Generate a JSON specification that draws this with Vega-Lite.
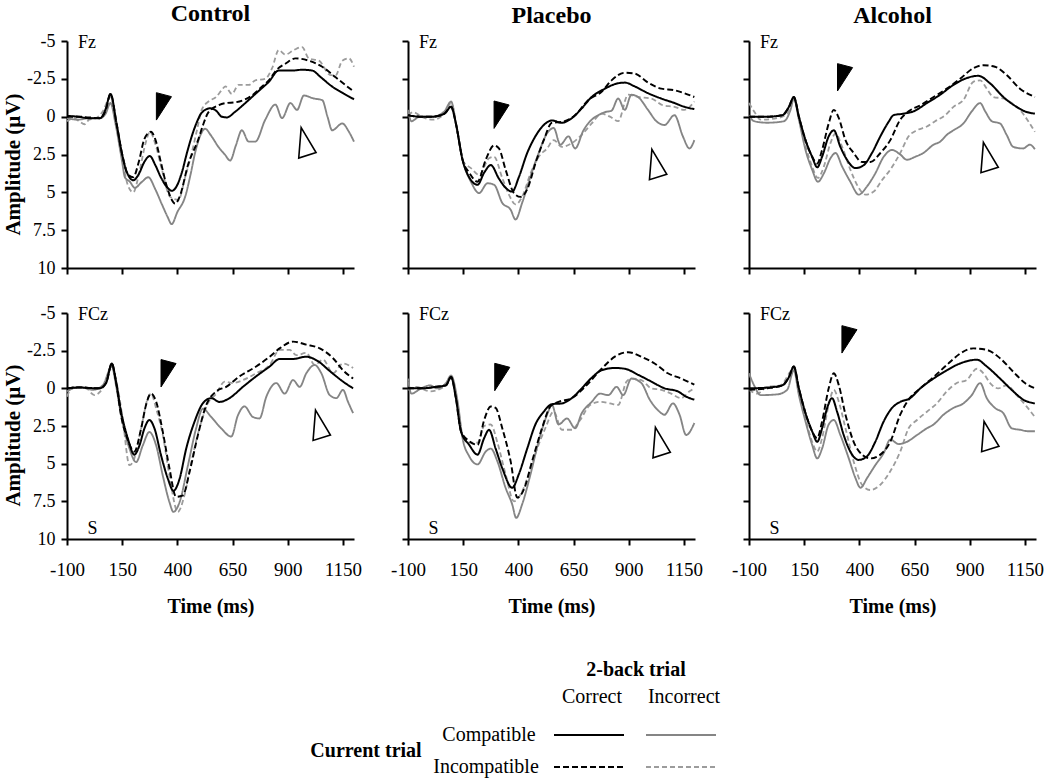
{
"$schema":"https://vega.github.io/schema/vega-lite/v6.json",
"padding":{"left":2,"top":2,"right":5,"bottom":0},
"config":{"font":"Liberation Serif","view":{"stroke":null},
 "axis":{"domainColor":"#000","domainWidth":2,"tickColor":"#000","tickWidth":2,"tickSize":6,"grid":false,"labelOverlap":false,"labelFont":"Liberation Serif","labelFontSize":18,"labelColor":"#000","titleFont":"Liberation Serif","titleFontWeight":"bold","titleColor":"#000"},
 "axisX":{"labelPadding":15,"labelFontSize":19,"labelFlush":false,"titleFontSize":20,"titlePadding":17},
 "axisY":{"labelPadding":6,"titleFontSize":21,"titlePadding":3},
 "title":{"font":"Liberation Serif","fontSize":24,"fontWeight":"bold","color":"#000","anchor":"middle","frame":"group","offset":6}},
"datasets":{
"CF":[
{"s":"ii","t":-100,"v":0.3},{"s":"ii","t":-70,"v":0.1},{"s":"ii","t":-45,"v":0.3},{"s":"ii","t":-20,"v":0.5},{"s":"ii","t":0,"v":0.2},{"s":"ii","t":30,"v":0.1},{"s":"ii","t":60,"v":-0.3},{"s":"ii","t":97,"v":-1.3},{"s":"ii","t":120,"v":0.3},{"s":"ii","t":150,"v":2.8},{"s":"ii","t":175,"v":4.5},{"s":"ii","t":200,"v":5.0},{"s":"ii","t":230,"v":3.5},{"s":"ii","t":255,"v":1.8},{"s":"ii","t":276,"v":1.0},{"s":"ii","t":300,"v":1.8},{"s":"ii","t":330,"v":3.5},{"s":"ii","t":367,"v":5.3},{"s":"ii","t":405,"v":5.5},{"s":"ii","t":435,"v":4.0},{"s":"ii","t":465,"v":2.4},{"s":"ii","t":490,"v":0.8},{"s":"ii","t":510,"v":-0.45},{"s":"ii","t":541,"v":-1.0},{"s":"ii","t":575,"v":-1.3},{"s":"ii","t":601,"v":-1.75},{"s":"ii","t":617,"v":-2.0},{"s":"ii","t":647,"v":-1.5},{"s":"ii","t":677,"v":-2.1},{"s":"ii","t":723,"v":-2.1},{"s":"ii","t":753,"v":-2.4},{"s":"ii","t":798,"v":-2.5},{"s":"ii","t":829,"v":-3.2},{"s":"ii","t":859,"v":-4.4},{"s":"ii","t":889,"v":-4.1},{"s":"ii","t":927,"v":-4.4},{"s":"ii","t":965,"v":-4.6},{"s":"ii","t":995,"v":-3.85},{"s":"ii","t":1041,"v":-3.7},{"s":"ii","t":1094,"v":-2.75},{"s":"ii","t":1117,"v":-2.75},{"s":"ii","t":1147,"v":-3.7},{"s":"ii","t":1177,"v":-3.85},{"s":"ii","t":1200,"v":-3.3},
{"s":"ci","t":-100,"v":0.1},{"s":"ci","t":-50,"v":0.2},{"s":"ci","t":0,"v":0.1},{"s":"ci","t":50,"v":0.1},{"s":"ci","t":75,"v":-0.2},{"s":"ci","t":97,"v":-0.9},{"s":"ci","t":120,"v":0.5},{"s":"ci","t":150,"v":3.0},{"s":"ci","t":162,"v":4.0},{"s":"ci","t":185,"v":4.3},{"s":"ci","t":207,"v":4.7},{"s":"ci","t":240,"v":4.3},{"s":"ci","t":268,"v":4.0},{"s":"ci","t":300,"v":4.8},{"s":"ci","t":330,"v":5.8},{"s":"ci","t":355,"v":6.6},{"s":"ci","t":374,"v":7.1},{"s":"ci","t":400,"v":6.3},{"s":"ci","t":435,"v":5.3},{"s":"ci","t":460,"v":3.8},{"s":"ci","t":480,"v":2.4},{"s":"ci","t":505,"v":1.2},{"s":"ci","t":526,"v":0.8},{"s":"ci","t":550,"v":1.2},{"s":"ci","t":586,"v":2.0},{"s":"ci","t":615,"v":2.5},{"s":"ci","t":639,"v":2.9},{"s":"ci","t":665,"v":1.9},{"s":"ci","t":692,"v":0.9},{"s":"ci","t":723,"v":1.65},{"s":"ci","t":753,"v":1.65},{"s":"ci","t":798,"v":0.2},{"s":"ci","t":844,"v":-0.8},{"s":"ci","t":874,"v":0.1},{"s":"ci","t":912,"v":-0.9},{"s":"ci","t":942,"v":-0.45},{"s":"ci","t":973,"v":-1.4},{"s":"ci","t":1018,"v":-1.2},{"s":"ci","t":1056,"v":-1.1},{"s":"ci","t":1080,"v":0.0},{"s":"ci","t":1101,"v":0.9},{"s":"ci","t":1147,"v":0.45},{"s":"ci","t":1177,"v":1.0},{"s":"ci","t":1200,"v":1.65},
{"s":"ic","t":-100,"v":0},{"s":"ic","t":-50,"v":0},{"s":"ic","t":0,"v":0.05},{"s":"ic","t":50,"v":0.1},{"s":"ic","t":75,"v":-0.4},{"s":"ic","t":97,"v":-1.5},{"s":"ic","t":125,"v":0.5},{"s":"ic","t":150,"v":2.5},{"s":"ic","t":175,"v":3.8},{"s":"ic","t":200,"v":4.0},{"s":"ic","t":225,"v":3.0},{"s":"ic","t":250,"v":1.5},{"s":"ic","t":280,"v":1.0},{"s":"ic","t":300,"v":1.5},{"s":"ic","t":325,"v":3.0},{"s":"ic","t":350,"v":4.5},{"s":"ic","t":375,"v":5.5},{"s":"ic","t":390,"v":5.75},{"s":"ic","t":410,"v":5.3},{"s":"ic","t":450,"v":3.1},{"s":"ic","t":495,"v":1.5},{"s":"ic","t":515,"v":0.6},{"s":"ic","t":541,"v":-0.3},{"s":"ic","t":586,"v":-0.75},{"s":"ic","t":620,"v":-0.9},{"s":"ic","t":662,"v":-0.95},{"s":"ic","t":700,"v":-1.1},{"s":"ic","t":738,"v":-1.4},{"s":"ic","t":776,"v":-1.9},{"s":"ic","t":814,"v":-2.4},{"s":"ic","t":850,"v":-3.1},{"s":"ic","t":889,"v":-3.5},{"s":"ic","t":935,"v":-3.85},{"s":"ic","t":995,"v":-3.7},{"s":"ic","t":1056,"v":-3.3},{"s":"ic","t":1117,"v":-2.6},{"s":"ic","t":1160,"v":-2.1},{"s":"ic","t":1200,"v":-1.65},
{"s":"cc","t":-100,"v":-0.05},{"s":"cc","t":-50,"v":0},{"s":"cc","t":0,"v":0.1},{"s":"cc","t":50,"v":0.1},{"s":"cc","t":75,"v":-0.5},{"s":"cc","t":97,"v":-1.5},{"s":"cc","t":125,"v":0.5},{"s":"cc","t":150,"v":2.5},{"s":"cc","t":175,"v":3.8},{"s":"cc","t":200,"v":4.2},{"s":"cc","t":225,"v":3.8},{"s":"cc","t":250,"v":3.0},{"s":"cc","t":275,"v":2.6},{"s":"cc","t":300,"v":3.2},{"s":"cc","t":325,"v":4.0},{"s":"cc","t":350,"v":4.6},{"s":"cc","t":375,"v":4.9},{"s":"cc","t":400,"v":4.5},{"s":"cc","t":420,"v":3.7},{"s":"cc","t":445,"v":2.3},{"s":"cc","t":465,"v":1.3},{"s":"cc","t":490,"v":0.3},{"s":"cc","t":510,"v":-0.26},{"s":"cc","t":548,"v":-0.55},{"s":"cc","t":575,"v":-0.4},{"s":"cc","t":601,"v":0},{"s":"cc","t":624,"v":0.05},{"s":"cc","t":662,"v":-0.33},{"s":"cc","t":700,"v":-0.8},{"s":"cc","t":738,"v":-1.3},{"s":"cc","t":776,"v":-1.8},{"s":"cc","t":814,"v":-2.3},{"s":"cc","t":859,"v":-3.05},{"s":"cc","t":920,"v":-3.05},{"s":"cc","t":965,"v":-3.1},{"s":"cc","t":1010,"v":-3.05},{"s":"cc","t":1050,"v":-2.6},{"s":"cc","t":1100,"v":-2.0},{"s":"cc","t":1150,"v":-1.55},{"s":"cc","t":1200,"v":-1.15}
],
"PF":[
{"s":"ii","t":-100,"v":-0.1},{"s":"ii","t":-77,"v":-0.3},{"s":"ii","t":-32,"v":0.05},{"s":"ii","t":12,"v":0.2},{"s":"ii","t":65,"v":-0.2},{"s":"ii","t":95,"v":-0.9},{"s":"ii","t":130,"v":1.55},{"s":"ii","t":152,"v":3.0},{"s":"ii","t":185,"v":3.4},{"s":"ii","t":222,"v":3.85},{"s":"ii","t":267,"v":2.75},{"s":"ii","t":290,"v":2.65},{"s":"ii","t":327,"v":4.05},{"s":"ii","t":357,"v":5.15},{"s":"ii","t":387,"v":5.8},{"s":"ii","t":417,"v":5.3},{"s":"ii","t":455,"v":3.75},{"s":"ii","t":492,"v":2.65},{"s":"ii","t":530,"v":2.1},{"s":"ii","t":560,"v":1.55},{"s":"ii","t":597,"v":2.0},{"s":"ii","t":642,"v":1.75},{"s":"ii","t":687,"v":1.2},{"s":"ii","t":732,"v":0.45},{"s":"ii","t":777,"v":-0.2},{"s":"ii","t":815,"v":0.0},{"s":"ii","t":852,"v":0.3},{"s":"ii","t":897,"v":-1.45},{"s":"ii","t":942,"v":-1.3},{"s":"ii","t":1002,"v":-1.2},{"s":"ii","t":1055,"v":-0.75},{"s":"ii","t":1107,"v":-0.65},{"s":"ii","t":1152,"v":-0.45},{"s":"ii","t":1197,"v":-1.0},
{"s":"ci","t":-100,"v":-0.45},{"s":"ci","t":-85,"v":0.3},{"s":"ci","t":-47,"v":0},{"s":"ci","t":12,"v":0},{"s":"ci","t":65,"v":-0.35},{"s":"ci","t":95,"v":-1.0},{"s":"ci","t":122,"v":0.9},{"s":"ci","t":152,"v":3.1},{"s":"ci","t":185,"v":4.3},{"s":"ci","t":222,"v":5.05},{"s":"ci","t":260,"v":4.4},{"s":"ci","t":290,"v":4.5},{"s":"ci","t":327,"v":5.7},{"s":"ci","t":365,"v":6.15},{"s":"ci","t":387,"v":6.8},{"s":"ci","t":417,"v":5.7},{"s":"ci","t":455,"v":3.95},{"s":"ci","t":492,"v":2.4},{"s":"ci","t":530,"v":1.1},{"s":"ci","t":560,"v":0.75},{"s":"ci","t":590,"v":1.85},{"s":"ci","t":627,"v":1.3},{"s":"ci","t":657,"v":2.1},{"s":"ci","t":695,"v":0.9},{"s":"ci","t":732,"v":0.2},{"s":"ci","t":762,"v":-0.1},{"s":"ci","t":792,"v":-0.3},{"s":"ci","t":822,"v":-0.4},{"s":"ci","t":852,"v":-1.2},{"s":"ci","t":882,"v":-0.45},{"s":"ci","t":912,"v":-1.45},{"s":"ci","t":942,"v":-1.3},{"s":"ci","t":987,"v":-0.45},{"s":"ci","t":1025,"v":0.3},{"s":"ci","t":1062,"v":0.55},{"s":"ci","t":1107,"v":-0.1},{"s":"ci","t":1145,"v":1.3},{"s":"ci","t":1175,"v":2.1},{"s":"ci","t":1197,"v":1.55},
{"s":"ic","t":-100,"v":-0.1},{"s":"ic","t":-47,"v":0},{"s":"ic","t":12,"v":0},{"s":"ic","t":65,"v":-0.2},{"s":"ic","t":95,"v":-0.65},{"s":"ic","t":117,"v":0.45},{"s":"ic","t":147,"v":2.85},{"s":"ic","t":177,"v":3.7},{"s":"ic","t":215,"v":4.3},{"s":"ic","t":252,"v":2.85},{"s":"ic","t":290,"v":1.9},{"s":"ic","t":312,"v":2.1},{"s":"ic","t":342,"v":3.5},{"s":"ic","t":380,"v":5.05},{"s":"ic","t":410,"v":5.3},{"s":"ic","t":440,"v":4.8},{"s":"ic","t":477,"v":3.1},{"s":"ic","t":515,"v":1.55},{"s":"ic","t":552,"v":0.4},{"s":"ic","t":597,"v":0.35},{"s":"ic","t":657,"v":-0.1},{"s":"ic","t":717,"v":-1.1},{"s":"ic","t":777,"v":-1.65},{"s":"ic","t":822,"v":-2.4},{"s":"ic","t":882,"v":-2.9},{"s":"ic","t":927,"v":-2.85},{"s":"ic","t":987,"v":-2.25},{"s":"ic","t":1047,"v":-1.85},{"s":"ic","t":1107,"v":-1.75},{"s":"ic","t":1152,"v":-1.55},{"s":"ic","t":1197,"v":-1.3},
{"s":"cc","t":-100,"v":-0.1},{"s":"cc","t":-47,"v":0},{"s":"cc","t":12,"v":0},{"s":"cc","t":65,"v":-0.2},{"s":"cc","t":95,"v":-0.65},{"s":"cc","t":117,"v":0.45},{"s":"cc","t":147,"v":2.85},{"s":"cc","t":177,"v":4.0},{"s":"cc","t":215,"v":4.5},{"s":"cc","t":245,"v":3.7},{"s":"cc","t":275,"v":3.2},{"s":"cc","t":312,"v":4.1},{"s":"cc","t":342,"v":4.7},{"s":"cc","t":372,"v":4.95},{"s":"cc","t":402,"v":4.0},{"s":"cc","t":440,"v":2.4},{"s":"cc","t":477,"v":1.3},{"s":"cc","t":515,"v":0.55},{"s":"cc","t":552,"v":0.25},{"s":"cc","t":597,"v":0.4},{"s":"cc","t":642,"v":0.1},{"s":"cc","t":687,"v":-0.55},{"s":"cc","t":732,"v":-1.3},{"s":"cc","t":792,"v":-1.85},{"s":"cc","t":837,"v":-2.15},{"s":"cc","t":882,"v":-2.25},{"s":"cc","t":927,"v":-2.0},{"s":"cc","t":987,"v":-1.55},{"s":"cc","t":1047,"v":-1.2},{"s":"cc","t":1107,"v":-0.9},{"s":"cc","t":1152,"v":-0.65},{"s":"cc","t":1197,"v":-0.5}
],
"AF":[
{"s":"ii","t":-100,"v":-0.9},{"s":"ii","t":-77,"v":-0.35},{"s":"ii","t":-47,"v":0.2},{"s":"ii","t":28,"v":0.1},{"s":"ii","t":73,"v":-0.2},{"s":"ii","t":103,"v":-1.15},{"s":"ii","t":126,"v":0},{"s":"ii","t":156,"v":1.9},{"s":"ii","t":186,"v":3.3},{"s":"ii","t":212,"v":4.05},{"s":"ii","t":239,"v":3.3},{"s":"ii","t":269,"v":1.75},{"s":"ii","t":292,"v":1.1},{"s":"ii","t":322,"v":2.0},{"s":"ii","t":359,"v":3.5},{"s":"ii","t":397,"v":4.7},{"s":"ii","t":427,"v":5.15},{"s":"ii","t":465,"v":4.95},{"s":"ii","t":502,"v":4.2},{"s":"ii","t":540,"v":3.5},{"s":"ii","t":585,"v":2.4},{"s":"ii","t":623,"v":1.3},{"s":"ii","t":660,"v":0.9},{"s":"ii","t":706,"v":0.65},{"s":"ii","t":743,"v":0.3},{"s":"ii","t":789,"v":-0.1},{"s":"ii","t":826,"v":-0.65},{"s":"ii","t":871,"v":-1.1},{"s":"ii","t":916,"v":-2.3},{"s":"ii","t":947,"v":-2.4},{"s":"ii","t":977,"v":-1.85},{"s":"ii","t":1007,"v":-1.3},{"s":"ii","t":1052,"v":-1.2},{"s":"ii","t":1090,"v":-0.9},{"s":"ii","t":1127,"v":-0.45},{"s":"ii","t":1165,"v":0.3},{"s":"ii","t":1195,"v":1.0},
{"s":"ci","t":-100,"v":-0.1},{"s":"ci","t":-77,"v":0.3},{"s":"ci","t":-17,"v":0.4},{"s":"ci","t":58,"v":0.3},{"s":"ci","t":88,"v":-0.45},{"s":"ci","t":103,"v":-1.2},{"s":"ci","t":126,"v":0.2},{"s":"ci","t":156,"v":2.2},{"s":"ci","t":186,"v":3.5},{"s":"ci","t":212,"v":4.3},{"s":"ci","t":239,"v":3.75},{"s":"ci","t":269,"v":2.75},{"s":"ci","t":292,"v":2.4},{"s":"ci","t":322,"v":3.3},{"s":"ci","t":359,"v":4.3},{"s":"ci","t":397,"v":5.15},{"s":"ci","t":435,"v":4.6},{"s":"ci","t":472,"v":3.75},{"s":"ci","t":510,"v":2.65},{"s":"ci","t":548,"v":2.2},{"s":"ci","t":585,"v":2.5},{"s":"ci","t":615,"v":2.85},{"s":"ci","t":653,"v":2.65},{"s":"ci","t":690,"v":2.4},{"s":"ci","t":736,"v":1.85},{"s":"ci","t":766,"v":1.65},{"s":"ci","t":796,"v":1.2},{"s":"ci","t":826,"v":0.9},{"s":"ci","t":871,"v":0.45},{"s":"ci","t":909,"v":-0.35},{"s":"ci","t":947,"v":-0.9},{"s":"ci","t":970,"v":-0.35},{"s":"ci","t":1000,"v":0.3},{"s":"ci","t":1037,"v":0.45},{"s":"ci","t":1067,"v":1.2},{"s":"ci","t":1097,"v":2.0},{"s":"ci","t":1142,"v":2.1},{"s":"ci","t":1172,"v":1.85},{"s":"ci","t":1195,"v":2.15},
{"s":"ic","t":-100,"v":0},{"s":"ic","t":-17,"v":0},{"s":"ic","t":51,"v":-0.1},{"s":"ic","t":81,"v":-0.65},{"s":"ic","t":103,"v":-1.3},{"s":"ic","t":126,"v":0},{"s":"ic","t":156,"v":1.55},{"s":"ic","t":186,"v":2.65},{"s":"ic","t":209,"v":3.1},{"s":"ic","t":231,"v":2.2},{"s":"ic","t":261,"v":0.45},{"s":"ic","t":284,"v":-0.45},{"s":"ic","t":307,"v":0.1},{"s":"ic","t":337,"v":1.55},{"s":"ic","t":374,"v":2.4},{"s":"ic","t":412,"v":3.0},{"s":"ic","t":450,"v":3.0},{"s":"ic","t":495,"v":2.4},{"s":"ic","t":540,"v":1.55},{"s":"ic","t":585,"v":0.2},{"s":"ic","t":623,"v":-0.35},{"s":"ic","t":676,"v":-0.75},{"s":"ic","t":736,"v":-1.3},{"s":"ic","t":796,"v":-1.85},{"s":"ic","t":856,"v":-2.5},{"s":"ic","t":916,"v":-3.2},{"s":"ic","t":962,"v":-3.4},{"s":"ic","t":1014,"v":-3.3},{"s":"ic","t":1067,"v":-2.75},{"s":"ic","t":1127,"v":-1.85},{"s":"ic","t":1195,"v":-1.3},
{"s":"cc","t":-100,"v":0},{"s":"cc","t":-17,"v":0},{"s":"cc","t":51,"v":-0.1},{"s":"cc","t":81,"v":-0.65},{"s":"cc","t":103,"v":-1.3},{"s":"cc","t":126,"v":0},{"s":"cc","t":156,"v":1.55},{"s":"cc","t":186,"v":2.65},{"s":"cc","t":209,"v":3.35},{"s":"cc","t":231,"v":2.65},{"s":"cc","t":261,"v":1.3},{"s":"cc","t":284,"v":0.9},{"s":"cc","t":314,"v":2.0},{"s":"cc","t":344,"v":2.85},{"s":"cc","t":382,"v":3.4},{"s":"cc","t":420,"v":3.2},{"s":"cc","t":457,"v":2.4},{"s":"cc","t":495,"v":1.3},{"s":"cc","t":532,"v":0.35},{"s":"cc","t":555,"v":-0.1},{"s":"cc","t":600,"v":-0.2},{"s":"cc","t":645,"v":-0.35},{"s":"cc","t":706,"v":-0.9},{"s":"cc","t":766,"v":-1.45},{"s":"cc","t":826,"v":-2.1},{"s":"cc","t":886,"v":-2.55},{"s":"cc","t":939,"v":-2.7},{"s":"cc","t":992,"v":-2.2},{"s":"cc","t":1052,"v":-1.3},{"s":"cc","t":1112,"v":-0.65},{"s":"cc","t":1150,"v":-0.35},{"s":"cc","t":1195,"v":-0.2}
],
"CC":[
{"s":"ii","t":-100,"v":0.55},{"s":"ii","t":-74,"v":-0.1},{"s":"ii","t":-21,"v":-0.1},{"s":"ii","t":24,"v":0.45},{"s":"ii","t":62,"v":0},{"s":"ii","t":103,"v":-1.35},{"s":"ii","t":130,"v":0},{"s":"ii","t":152,"v":2.0},{"s":"ii","t":183,"v":5.1},{"s":"ii","t":205,"v":4.65},{"s":"ii","t":236,"v":2.65},{"s":"ii","t":266,"v":0.65},{"s":"ii","t":281,"v":0.35},{"s":"ii","t":304,"v":1.35},{"s":"ii","t":334,"v":3.1},{"s":"ii","t":364,"v":5.8},{"s":"ii","t":402,"v":8.2},{"s":"ii","t":432,"v":7.1},{"s":"ii","t":463,"v":4.9},{"s":"ii","t":500,"v":2.65},{"s":"ii","t":538,"v":1.0},{"s":"ii","t":576,"v":0.35},{"s":"ii","t":614,"v":-0.45},{"s":"ii","t":651,"v":-0.35},{"s":"ii","t":697,"v":-0.55},{"s":"ii","t":757,"v":-1.0},{"s":"ii","t":818,"v":-1.55},{"s":"ii","t":863,"v":-2.55},{"s":"ii","t":909,"v":-2.55},{"s":"ii","t":939,"v":-2.2},{"s":"ii","t":984,"v":-2.35},{"s":"ii","t":1022,"v":-1.55},{"s":"ii","t":1060,"v":-1.9},{"s":"ii","t":1105,"v":-1.0},{"s":"ii","t":1150,"v":-1.65},{"s":"ii","t":1196,"v":-1.35},
{"s":"ci","t":-100,"v":0.2},{"s":"ci","t":-44,"v":-0.1},{"s":"ci","t":17,"v":0.1},{"s":"ci","t":62,"v":-0.2},{"s":"ci","t":103,"v":-1.45},{"s":"ci","t":122,"v":-0.2},{"s":"ci","t":145,"v":1.8},{"s":"ci","t":183,"v":4.0},{"s":"ci","t":213,"v":4.9},{"s":"ci","t":243,"v":3.8},{"s":"ci","t":273,"v":2.9},{"s":"ci","t":304,"v":3.8},{"s":"ci","t":334,"v":5.8},{"s":"ci","t":364,"v":7.55},{"s":"ci","t":382,"v":8.2},{"s":"ci","t":410,"v":7.55},{"s":"ci","t":448,"v":5.1},{"s":"ci","t":485,"v":2.65},{"s":"ci","t":515,"v":1.35},{"s":"ci","t":553,"v":1.9},{"s":"ci","t":598,"v":2.65},{"s":"ci","t":644,"v":3.2},{"s":"ci","t":674,"v":1.8},{"s":"ci","t":704,"v":1.2},{"s":"ci","t":742,"v":1.9},{"s":"ci","t":772,"v":2.0},{"s":"ci","t":803,"v":0.55},{"s":"ci","t":848,"v":-0.35},{"s":"ci","t":886,"v":0.35},{"s":"ci","t":924,"v":-0.55},{"s":"ci","t":954,"v":-0.1},{"s":"ci","t":984,"v":-1.0},{"s":"ci","t":1022,"v":-1.55},{"s":"ci","t":1052,"v":-1.0},{"s":"ci","t":1090,"v":0.45},{"s":"ci","t":1120,"v":0.65},{"s":"ci","t":1150,"v":0.1},{"s":"ci","t":1173,"v":0.9},{"s":"ci","t":1196,"v":1.65},
{"s":"ic","t":-100,"v":0},{"s":"ic","t":-44,"v":-0.05},{"s":"ic","t":47,"v":0},{"s":"ic","t":77,"v":-0.35},{"s":"ic","t":103,"v":-1.65},{"s":"ic","t":122,"v":-0.45},{"s":"ic","t":145,"v":1.8},{"s":"ic","t":175,"v":3.4},{"s":"ic","t":205,"v":4.2},{"s":"ic","t":236,"v":2.65},{"s":"ic","t":258,"v":1.1},{"s":"ic","t":281,"v":0.35},{"s":"ic","t":304,"v":0.9},{"s":"ic","t":334,"v":2.9},{"s":"ic","t":364,"v":5.3},{"s":"ic","t":394,"v":7.2},{"s":"ic","t":425,"v":7.1},{"s":"ic","t":455,"v":5.55},{"s":"ic","t":493,"v":3.1},{"s":"ic","t":531,"v":1.1},{"s":"ic","t":576,"v":0.2},{"s":"ic","t":621,"v":-0.1},{"s":"ic","t":682,"v":-0.8},{"s":"ic","t":757,"v":-1.45},{"s":"ic","t":818,"v":-2.1},{"s":"ic","t":863,"v":-2.65},{"s":"ic","t":924,"v":-3.1},{"s":"ic","t":984,"v":-2.9},{"s":"ic","t":1045,"v":-2.65},{"s":"ic","t":1105,"v":-2.0},{"s":"ic","t":1150,"v":-1.2},{"s":"ic","t":1196,"v":-0.65},
{"s":"cc","t":-100,"v":0},{"s":"cc","t":-44,"v":-0.05},{"s":"cc","t":47,"v":0},{"s":"cc","t":77,"v":-0.35},{"s":"cc","t":103,"v":-1.65},{"s":"cc","t":122,"v":-0.45},{"s":"cc","t":145,"v":1.55},{"s":"cc","t":175,"v":3.3},{"s":"cc","t":205,"v":4.4},{"s":"cc","t":228,"v":3.8},{"s":"cc","t":251,"v":2.65},{"s":"cc","t":273,"v":2.1},{"s":"cc","t":296,"v":2.65},{"s":"cc","t":326,"v":4.45},{"s":"cc","t":357,"v":6.0},{"s":"cc","t":382,"v":6.8},{"s":"cc","t":410,"v":6.0},{"s":"cc","t":440,"v":4.0},{"s":"cc","t":478,"v":2.2},{"s":"cc","t":515,"v":1.0},{"s":"cc","t":553,"v":0.65},{"s":"cc","t":591,"v":0.9},{"s":"cc","t":636,"v":0.65},{"s":"cc","t":697,"v":-0.1},{"s":"cc","t":757,"v":-0.8},{"s":"cc","t":818,"v":-1.45},{"s":"cc","t":863,"v":-1.95},{"s":"cc","t":924,"v":-1.95},{"s":"cc","t":984,"v":-2.1},{"s":"cc","t":1037,"v":-1.8},{"s":"cc","t":1090,"v":-1.15},{"s":"cc","t":1150,"v":-0.45},{"s":"cc","t":1196,"v":0}
],
"PC":[
{"s":"ii","t":-100,"v":0.1},{"s":"ii","t":-62,"v":-0.1},{"s":"ii","t":0,"v":0.2},{"s":"ii","t":72,"v":-0.2},{"s":"ii","t":95,"v":-0.75},{"s":"ii","t":125,"v":1.1},{"s":"ii","t":147,"v":3.2},{"s":"ii","t":177,"v":3.6},{"s":"ii","t":215,"v":3.6},{"s":"ii","t":245,"v":2.5},{"s":"ii","t":275,"v":2.4},{"s":"ii","t":305,"v":3.6},{"s":"ii","t":342,"v":5.7},{"s":"ii","t":380,"v":7.5},{"s":"ii","t":410,"v":7.05},{"s":"ii","t":447,"v":5.7},{"s":"ii","t":485,"v":4.0},{"s":"ii","t":522,"v":2.65},{"s":"ii","t":560,"v":1.55},{"s":"ii","t":597,"v":2.75},{"s":"ii","t":642,"v":2.75},{"s":"ii","t":680,"v":2.1},{"s":"ii","t":725,"v":1.1},{"s":"ii","t":770,"v":0.9},{"s":"ii","t":815,"v":1.0},{"s":"ii","t":852,"v":1.1},{"s":"ii","t":890,"v":-0.45},{"s":"ii","t":912,"v":-0.65},{"s":"ii","t":957,"v":-0.55},{"s":"ii","t":1002,"v":0},{"s":"ii","t":1047,"v":0.1},{"s":"ii","t":1092,"v":0.35},{"s":"ii","t":1137,"v":0.65},{"s":"ii","t":1175,"v":0.2},{"s":"ii","t":1197,"v":0},
{"s":"ci","t":-100,"v":-0.65},{"s":"ci","t":-85,"v":0.35},{"s":"ci","t":-40,"v":0},{"s":"ci","t":0,"v":-0.2},{"s":"ci","t":30,"v":0},{"s":"ci","t":72,"v":-0.35},{"s":"ci","t":95,"v":-0.85},{"s":"ci","t":125,"v":0.9},{"s":"ci","t":147,"v":3.3},{"s":"ci","t":177,"v":4.5},{"s":"ci","t":215,"v":5.05},{"s":"ci","t":252,"v":4.2},{"s":"ci","t":275,"v":4.0},{"s":"ci","t":305,"v":4.85},{"s":"ci","t":342,"v":6.6},{"s":"ci","t":372,"v":7.7},{"s":"ci","t":390,"v":8.6},{"s":"ci","t":417,"v":7.7},{"s":"ci","t":455,"v":5.7},{"s":"ci","t":492,"v":3.5},{"s":"ci","t":530,"v":1.75},{"s":"ci","t":552,"v":1.1},{"s":"ci","t":582,"v":2.4},{"s":"ci","t":620,"v":2.0},{"s":"ci","t":657,"v":2.65},{"s":"ci","t":687,"v":1.65},{"s":"ci","t":732,"v":0.9},{"s":"ci","t":770,"v":0.35},{"s":"ci","t":807,"v":0.45},{"s":"ci","t":845,"v":-0.1},{"s":"ci","t":875,"v":0.45},{"s":"ci","t":912,"v":-0.65},{"s":"ci","t":957,"v":-0.35},{"s":"ci","t":995,"v":0.75},{"s":"ci","t":1032,"v":1.45},{"s":"ci","t":1062,"v":1.75},{"s":"ci","t":1100,"v":1.0},{"s":"ci","t":1130,"v":1.75},{"s":"ci","t":1160,"v":3.1},{"s":"ci","t":1197,"v":2.3},
{"s":"ic","t":-100,"v":0},{"s":"ic","t":-40,"v":0},{"s":"ic","t":27,"v":-0.1},{"s":"ic","t":72,"v":-0.2},{"s":"ic","t":95,"v":-0.75},{"s":"ic","t":117,"v":0.65},{"s":"ic","t":140,"v":2.85},{"s":"ic","t":177,"v":3.5},{"s":"ic","t":215,"v":3.75},{"s":"ic","t":245,"v":2.1},{"s":"ic","t":275,"v":1.2},{"s":"ic","t":297,"v":1.3},{"s":"ic","t":327,"v":2.65},{"s":"ic","t":365,"v":4.85},{"s":"ic","t":395,"v":7.25},{"s":"ic","t":425,"v":6.7},{"s":"ic","t":462,"v":4.85},{"s":"ic","t":507,"v":2.65},{"s":"ic","t":545,"v":1.2},{"s":"ic","t":582,"v":0.9},{"s":"ic","t":642,"v":0.65},{"s":"ic","t":702,"v":-0.1},{"s":"ic","t":777,"v":-1.3},{"s":"ic","t":837,"v":-2.1},{"s":"ic","t":897,"v":-2.4},{"s":"ic","t":957,"v":-2.1},{"s":"ic","t":1017,"v":-1.65},{"s":"ic","t":1077,"v":-1.0},{"s":"ic","t":1137,"v":-0.65},{"s":"ic","t":1197,"v":-0.25},
{"s":"cc","t":-100,"v":0},{"s":"cc","t":-40,"v":0},{"s":"cc","t":27,"v":-0.1},{"s":"cc","t":72,"v":-0.2},{"s":"cc","t":95,"v":-0.75},{"s":"cc","t":117,"v":0.65},{"s":"cc","t":140,"v":2.85},{"s":"cc","t":177,"v":3.75},{"s":"cc","t":215,"v":4.4},{"s":"cc","t":245,"v":3.3},{"s":"cc","t":267,"v":2.75},{"s":"cc","t":297,"v":4.0},{"s":"cc","t":327,"v":5.3},{"s":"cc","t":372,"v":6.6},{"s":"cc","t":402,"v":5.7},{"s":"cc","t":440,"v":4.0},{"s":"cc","t":477,"v":2.4},{"s":"cc","t":515,"v":1.55},{"s":"cc","t":552,"v":1.05},{"s":"cc","t":597,"v":1.0},{"s":"cc","t":642,"v":0.65},{"s":"cc","t":687,"v":0},{"s":"cc","t":732,"v":-0.7},{"s":"cc","t":777,"v":-1.2},{"s":"cc","t":837,"v":-1.35},{"s":"cc","t":882,"v":-1.3},{"s":"cc","t":942,"v":-0.9},{"s":"cc","t":1002,"v":-0.45},{"s":"cc","t":1062,"v":0},{"s":"cc","t":1122,"v":0.2},{"s":"cc","t":1160,"v":0.55},{"s":"cc","t":1197,"v":0.75}
],
"AC":[
{"s":"ii","t":-100,"v":0.1},{"s":"ii","t":-62,"v":0.35},{"s":"ii","t":-17,"v":-0.1},{"s":"ii","t":43,"v":-0.2},{"s":"ii","t":103,"v":-1.3},{"s":"ii","t":126,"v":0.2},{"s":"ii","t":156,"v":2.0},{"s":"ii","t":186,"v":3.55},{"s":"ii","t":209,"v":4.2},{"s":"ii","t":231,"v":3.3},{"s":"ii","t":261,"v":1.1},{"s":"ii","t":284,"v":0.1},{"s":"ii","t":307,"v":0.9},{"s":"ii","t":337,"v":2.65},{"s":"ii","t":374,"v":4.85},{"s":"ii","t":412,"v":6.4},{"s":"ii","t":450,"v":6.75},{"s":"ii","t":495,"v":6.4},{"s":"ii","t":540,"v":5.5},{"s":"ii","t":585,"v":4.2},{"s":"ii","t":623,"v":2.65},{"s":"ii","t":661,"v":2.1},{"s":"ii","t":706,"v":1.55},{"s":"ii","t":751,"v":1.0},{"s":"ii","t":796,"v":0.2},{"s":"ii","t":841,"v":-0.35},{"s":"ii","t":886,"v":-0.55},{"s":"ii","t":932,"v":-1.3},{"s":"ii","t":962,"v":-1.0},{"s":"ii","t":992,"v":-0.35},{"s":"ii","t":1029,"v":0},{"s":"ii","t":1067,"v":-0.2},{"s":"ii","t":1112,"v":0.45},{"s":"ii","t":1157,"v":1.2},{"s":"ii","t":1195,"v":1.9},
{"s":"ci","t":-100,"v":-1.0},{"s":"ci","t":-77,"v":-0.2},{"s":"ci","t":-47,"v":0.45},{"s":"ci","t":28,"v":0.4},{"s":"ci","t":73,"v":0.1},{"s":"ci","t":103,"v":-1.2},{"s":"ci","t":126,"v":0.45},{"s":"ci","t":156,"v":2.2},{"s":"ci","t":186,"v":3.75},{"s":"ci","t":209,"v":4.65},{"s":"ci","t":231,"v":4.0},{"s":"ci","t":261,"v":2.4},{"s":"ci","t":284,"v":2.1},{"s":"ci","t":314,"v":3.1},{"s":"ci","t":352,"v":4.65},{"s":"ci","t":382,"v":5.95},{"s":"ci","t":405,"v":6.6},{"s":"ci","t":435,"v":5.95},{"s":"ci","t":472,"v":5.1},{"s":"ci","t":510,"v":4.3},{"s":"ci","t":540,"v":3.4},{"s":"ci","t":578,"v":3.7},{"s":"ci","t":615,"v":3.55},{"s":"ci","t":661,"v":3.1},{"s":"ci","t":706,"v":2.65},{"s":"ci","t":736,"v":2.4},{"s":"ci","t":781,"v":1.75},{"s":"ci","t":826,"v":1.3},{"s":"ci","t":871,"v":1.0},{"s":"ci","t":909,"v":0.45},{"s":"ci","t":947,"v":-0.35},{"s":"ci","t":977,"v":0.65},{"s":"ci","t":1014,"v":1.3},{"s":"ci","t":1052,"v":1.65},{"s":"ci","t":1090,"v":2.65},{"s":"ci","t":1127,"v":2.75},{"s":"ci","t":1165,"v":2.85},{"s":"ci","t":1195,"v":2.85},
{"s":"ic","t":-100,"v":0.1},{"s":"ic","t":-17,"v":0},{"s":"ic","t":51,"v":-0.2},{"s":"ic","t":81,"v":-0.75},{"s":"ic","t":103,"v":-1.45},{"s":"ic","t":126,"v":0},{"s":"ic","t":156,"v":1.65},{"s":"ic","t":186,"v":2.85},{"s":"ic","t":209,"v":3.3},{"s":"ic","t":231,"v":2.2},{"s":"ic","t":261,"v":0},{"s":"ic","t":284,"v":-1.0},{"s":"ic","t":307,"v":-0.2},{"s":"ic","t":337,"v":1.75},{"s":"ic","t":374,"v":3.55},{"s":"ic","t":412,"v":4.4},{"s":"ic","t":450,"v":4.65},{"s":"ic","t":495,"v":4.4},{"s":"ic","t":540,"v":3.55},{"s":"ic","t":585,"v":1.75},{"s":"ic","t":623,"v":0.75},{"s":"ic","t":676,"v":0},{"s":"ic","t":736,"v":-0.75},{"s":"ic","t":796,"v":-1.55},{"s":"ic","t":856,"v":-2.3},{"s":"ic","t":916,"v":-2.65},{"s":"ic","t":977,"v":-2.55},{"s":"ic","t":1037,"v":-2.0},{"s":"ic","t":1097,"v":-1.1},{"s":"ic","t":1150,"v":-0.35},{"s":"ic","t":1195,"v":0},
{"s":"cc","t":-100,"v":0},{"s":"cc","t":-17,"v":-0.05},{"s":"cc","t":51,"v":-0.2},{"s":"cc","t":81,"v":-0.75},{"s":"cc","t":103,"v":-1.45},{"s":"cc","t":126,"v":0},{"s":"cc","t":156,"v":1.65},{"s":"cc","t":186,"v":2.85},{"s":"cc","t":209,"v":3.55},{"s":"cc","t":231,"v":2.65},{"s":"cc","t":254,"v":1.3},{"s":"cc","t":276,"v":0.65},{"s":"cc","t":299,"v":1.55},{"s":"cc","t":329,"v":3.1},{"s":"cc","t":367,"v":4.4},{"s":"cc","t":397,"v":4.75},{"s":"cc","t":435,"v":4.5},{"s":"cc","t":472,"v":3.55},{"s":"cc","t":510,"v":2.2},{"s":"cc","t":548,"v":1.3},{"s":"cc","t":585,"v":0.9},{"s":"cc","t":630,"v":0.65},{"s":"cc","t":676,"v":0},{"s":"cc","t":736,"v":-0.65},{"s":"cc","t":796,"v":-1.2},{"s":"cc","t":856,"v":-1.65},{"s":"cc","t":932,"v":-1.9},{"s":"cc","t":977,"v":-1.45},{"s":"cc","t":1037,"v":-0.65},{"s":"cc","t":1097,"v":0.2},{"s":"cc","t":1142,"v":0.75},{"s":"cc","t":1195,"v":1.0}
],
"ann":[
{"p":"CF","k":"lab","t":-50,"v":-4.85,"txt":"Fz"},{"p":"CF","k":"f","t":339,"v":-0.68},{"p":"CF","k":"o","t":980,"v":1.73},
{"p":"PF","k":"lab","t":-50,"v":-4.85,"txt":"Fz"},{"p":"PF","k":"f","t":324,"v":-0.13},{"p":"PF","k":"o","t":1024,"v":3.16},
{"p":"AF","k":"lab","t":-50,"v":-4.85,"txt":"Fz"},{"p":"AF","k":"f","t":335,"v":-2.6},{"p":"AF","k":"o","t":981,"v":2.7},
{"p":"CC","k":"lab","t":-50,"v":-4.85,"txt":"FCz"},{"p":"CC","k":"lab","t":-7,"v":9.35,"txt":"S"},{"p":"CC","k":"f","t":360,"v":-1.0},{"p":"CC","k":"o","t":1045,"v":2.45},
{"p":"PC","k":"lab","t":-50,"v":-4.85,"txt":"FCz"},{"p":"PC","k":"lab","t":-7,"v":9.35,"txt":"S"},{"p":"PC","k":"f","t":327,"v":-0.75},{"p":"PC","k":"o","t":1040,"v":3.6},
{"p":"AC","k":"lab","t":-50,"v":-4.85,"txt":"FCz"},{"p":"AC","k":"lab","t":-7,"v":9.35,"txt":"S"},{"p":"AC","k":"f","t":355,"v":-3.25},{"p":"AC","k":"o","t":984,"v":3.2}
]
},
"vconcat":[
{"columns":3,"bounds":"flush","spacing":{"row":45,"column":54},
"concat":[
{"width":287,"height":227,"title":{"text":"Control"},"layer":[
 {"data":{"name":"CF"},"mark":{"type":"line","interpolate":"monotone"},"encoding":{
  "x":{"field":"t","type":"quantitative","scale":{"domain":[-100,1200],"nice":false,"zero":false},"axis":{"values":[-100,150,400,650,900,1150],"tickCount":10,"labels":false,"title":null}},
  "y":{"field":"v","type":"quantitative","scale":{"domain":[-5,10],"reverse":true,"nice":false,"zero":false},"axis":{"values":[-5,-2.5,0,2.5,5,7.5,10],"tickCount":10,"title":"Amplitude (µV)","titleY":123,"labelOverlap":false,"format":".1~f","labelExpr":"replace(datum.label, '−', '-')"}},
  "color":{"field":"s","type":"nominal","scale":{"domain":["ii","ci","ic","cc"],"range":["#9c9c9c","#858585","#000000","#000000"]},"legend":null},
  "strokeDash":{"field":"s","type":"nominal","scale":{"domain":["ii","ci","ic","cc"],"range":[[5,3],[1,0],[6,3],[1,0]]},"legend":null},
  "strokeWidth":{"field":"s","type":"nominal","scale":{"domain":["ii","ci","ic","cc"],"range":[1.8,2,2,2.2]},"legend":null}}},
 {"data":{"name":"ann"},"transform":[{"filter":"datum.p=='CF' && datum.k=='lab'"}],"mark":{"type":"text","align":"left","baseline":"middle","fontSize":18,"font":"Liberation Serif","color":"#000"},"encoding":{"x":{"field":"t","type":"quantitative"},"y":{"field":"v","type":"quantitative"},"text":{"field":"txt"}}},
 {"data":{"name":"ann"},"transform":[{"filter":"datum.p=='CF' && datum.k=='f'"}],"mark":{"type":"point","shape":"M-0.55,-1L0.55,-0.71L-0.55,1Z","size":750,"filled":true,"fill":"#000","stroke":"#000","strokeWidth":1,"opacity":1},"encoding":{"x":{"field":"t","type":"quantitative"},"y":{"field":"v","type":"quantitative"}}},
 {"data":{"name":"ann"},"transform":[{"filter":"datum.p=='CF' && datum.k=='o'"}],"mark":{"type":"point","shape":"M-0.28,-1L0.7,0.64L-0.44,1Z","size":924,"filled":true,"fill":"#fff","stroke":"#000","strokeWidth":1.6,"opacity":1},"encoding":{"x":{"field":"t","type":"quantitative"},"y":{"field":"v","type":"quantitative"}}}
]},
{"width":287,"height":227,"title":{"text":"Placebo"},"layer":[
 {"data":{"name":"PF"},"mark":{"type":"line","interpolate":"monotone"},"encoding":{
  "x":{"field":"t","type":"quantitative","scale":{"domain":[-100,1200],"nice":false,"zero":false},"axis":{"values":[-100,150,400,650,900,1150],"tickCount":10,"labels":false,"title":null}},
  "y":{"field":"v","type":"quantitative","scale":{"domain":[-5,10],"reverse":true,"nice":false,"zero":false},"axis":{"values":[-5,-2.5,0,2.5,5,7.5,10],"tickCount":10,"labels":false,"title":null}},
  "color":{"field":"s","type":"nominal","scale":{"domain":["ii","ci","ic","cc"],"range":["#9c9c9c","#858585","#000000","#000000"]},"legend":null},
  "strokeDash":{"field":"s","type":"nominal","scale":{"domain":["ii","ci","ic","cc"],"range":[[5,3],[1,0],[6,3],[1,0]]},"legend":null},
  "strokeWidth":{"field":"s","type":"nominal","scale":{"domain":["ii","ci","ic","cc"],"range":[1.8,2,2,2.2]},"legend":null}}},
 {"data":{"name":"ann"},"transform":[{"filter":"datum.p=='PF' && datum.k=='lab'"}],"mark":{"type":"text","align":"left","baseline":"middle","fontSize":18,"font":"Liberation Serif","color":"#000"},"encoding":{"x":{"field":"t","type":"quantitative"},"y":{"field":"v","type":"quantitative"},"text":{"field":"txt"}}},
 {"data":{"name":"ann"},"transform":[{"filter":"datum.p=='PF' && datum.k=='f'"}],"mark":{"type":"point","shape":"M-0.55,-1L0.55,-0.71L-0.55,1Z","size":750,"filled":true,"fill":"#000","stroke":"#000","strokeWidth":1,"opacity":1},"encoding":{"x":{"field":"t","type":"quantitative"},"y":{"field":"v","type":"quantitative"}}},
 {"data":{"name":"ann"},"transform":[{"filter":"datum.p=='PF' && datum.k=='o'"}],"mark":{"type":"point","shape":"M-0.28,-1L0.7,0.64L-0.44,1Z","size":924,"filled":true,"fill":"#fff","stroke":"#000","strokeWidth":1.6,"opacity":1},"encoding":{"x":{"field":"t","type":"quantitative"},"y":{"field":"v","type":"quantitative"}}}
]},
{"width":287,"height":227,"title":{"text":"Alcohol"},"layer":[
 {"data":{"name":"AF"},"mark":{"type":"line","interpolate":"monotone"},"encoding":{
  "x":{"field":"t","type":"quantitative","scale":{"domain":[-100,1200],"nice":false,"zero":false},"axis":{"values":[-100,150,400,650,900,1150],"tickCount":10,"labels":false,"title":null}},
  "y":{"field":"v","type":"quantitative","scale":{"domain":[-5,10],"reverse":true,"nice":false,"zero":false},"axis":{"values":[-5,-2.5,0,2.5,5,7.5,10],"tickCount":10,"labels":false,"title":null}},
  "color":{"field":"s","type":"nominal","scale":{"domain":["ii","ci","ic","cc"],"range":["#9c9c9c","#858585","#000000","#000000"]},"legend":null},
  "strokeDash":{"field":"s","type":"nominal","scale":{"domain":["ii","ci","ic","cc"],"range":[[5,3],[1,0],[6,3],[1,0]]},"legend":null},
  "strokeWidth":{"field":"s","type":"nominal","scale":{"domain":["ii","ci","ic","cc"],"range":[1.8,2,2,2.2]},"legend":null}}},
 {"data":{"name":"ann"},"transform":[{"filter":"datum.p=='AF' && datum.k=='lab'"}],"mark":{"type":"text","align":"left","baseline":"middle","fontSize":18,"font":"Liberation Serif","color":"#000"},"encoding":{"x":{"field":"t","type":"quantitative"},"y":{"field":"v","type":"quantitative"},"text":{"field":"txt"}}},
 {"data":{"name":"ann"},"transform":[{"filter":"datum.p=='AF' && datum.k=='f'"}],"mark":{"type":"point","shape":"M-0.55,-1L0.55,-0.71L-0.55,1Z","size":750,"filled":true,"fill":"#000","stroke":"#000","strokeWidth":1,"opacity":1},"encoding":{"x":{"field":"t","type":"quantitative"},"y":{"field":"v","type":"quantitative"}}},
 {"data":{"name":"ann"},"transform":[{"filter":"datum.p=='AF' && datum.k=='o'"}],"mark":{"type":"point","shape":"M-0.28,-1L0.7,0.64L-0.44,1Z","size":924,"filled":true,"fill":"#fff","stroke":"#000","strokeWidth":1.6,"opacity":1},"encoding":{"x":{"field":"t","type":"quantitative"},"y":{"field":"v","type":"quantitative"}}}
]},
{"width":287,"height":226,"layer":[
 {"data":{"name":"CC"},"mark":{"type":"line","interpolate":"monotone"},"encoding":{
  "x":{"field":"t","type":"quantitative","scale":{"domain":[-100,1200],"nice":false,"zero":false},"axis":{"values":[-100,150,400,650,900,1150],"tickCount":10,"labelFlush":false,"title":"Time (ms)","format":"d","labelExpr":"replace(datum.label, '−', '-')"}},
  "y":{"field":"v","type":"quantitative","scale":{"domain":[-5,10],"reverse":true,"nice":false,"zero":false},"axis":{"values":[-5,-2.5,0,2.5,5,7.5,10],"tickCount":10,"title":"Amplitude (µV)","titleY":122,"labelOverlap":false,"format":".1~f","labelExpr":"replace(datum.label, '−', '-')"}},
  "color":{"field":"s","type":"nominal","scale":{"domain":["ii","ci","ic","cc"],"range":["#9c9c9c","#858585","#000000","#000000"]},"legend":null},
  "strokeDash":{"field":"s","type":"nominal","scale":{"domain":["ii","ci","ic","cc"],"range":[[5,3],[1,0],[6,3],[1,0]]},"legend":null},
  "strokeWidth":{"field":"s","type":"nominal","scale":{"domain":["ii","ci","ic","cc"],"range":[1.8,2,2,2.2]},"legend":null}}},
 {"data":{"name":"ann"},"transform":[{"filter":"datum.p=='CC' && datum.k=='lab'"}],"mark":{"type":"text","align":"left","baseline":"middle","fontSize":18,"font":"Liberation Serif","color":"#000"},"encoding":{"x":{"field":"t","type":"quantitative"},"y":{"field":"v","type":"quantitative"},"text":{"field":"txt"}}},
 {"data":{"name":"ann"},"transform":[{"filter":"datum.p=='CC' && datum.k=='f'"}],"mark":{"type":"point","shape":"M-0.55,-1L0.55,-0.71L-0.55,1Z","size":750,"filled":true,"fill":"#000","stroke":"#000","strokeWidth":1,"opacity":1},"encoding":{"x":{"field":"t","type":"quantitative"},"y":{"field":"v","type":"quantitative"}}},
 {"data":{"name":"ann"},"transform":[{"filter":"datum.p=='CC' && datum.k=='o'"}],"mark":{"type":"point","shape":"M-0.28,-1L0.7,0.64L-0.44,1Z","size":924,"filled":true,"fill":"#fff","stroke":"#000","strokeWidth":1.6,"opacity":1},"encoding":{"x":{"field":"t","type":"quantitative"},"y":{"field":"v","type":"quantitative"}}}
]},
{"width":287,"height":226,"layer":[
 {"data":{"name":"PC"},"mark":{"type":"line","interpolate":"monotone"},"encoding":{
  "x":{"field":"t","type":"quantitative","scale":{"domain":[-100,1200],"nice":false,"zero":false},"axis":{"values":[-100,150,400,650,900,1150],"tickCount":10,"labelFlush":false,"title":"Time (ms)","format":"d","labelExpr":"replace(datum.label, '−', '-')"}},
  "y":{"field":"v","type":"quantitative","scale":{"domain":[-5,10],"reverse":true,"nice":false,"zero":false},"axis":{"values":[-5,-2.5,0,2.5,5,7.5,10],"tickCount":10,"labels":false,"title":null}},
  "color":{"field":"s","type":"nominal","scale":{"domain":["ii","ci","ic","cc"],"range":["#9c9c9c","#858585","#000000","#000000"]},"legend":null},
  "strokeDash":{"field":"s","type":"nominal","scale":{"domain":["ii","ci","ic","cc"],"range":[[5,3],[1,0],[6,3],[1,0]]},"legend":null},
  "strokeWidth":{"field":"s","type":"nominal","scale":{"domain":["ii","ci","ic","cc"],"range":[1.8,2,2,2.2]},"legend":null}}},
 {"data":{"name":"ann"},"transform":[{"filter":"datum.p=='PC' && datum.k=='lab'"}],"mark":{"type":"text","align":"left","baseline":"middle","fontSize":18,"font":"Liberation Serif","color":"#000"},"encoding":{"x":{"field":"t","type":"quantitative"},"y":{"field":"v","type":"quantitative"},"text":{"field":"txt"}}},
 {"data":{"name":"ann"},"transform":[{"filter":"datum.p=='PC' && datum.k=='f'"}],"mark":{"type":"point","shape":"M-0.55,-1L0.55,-0.71L-0.55,1Z","size":750,"filled":true,"fill":"#000","stroke":"#000","strokeWidth":1,"opacity":1},"encoding":{"x":{"field":"t","type":"quantitative"},"y":{"field":"v","type":"quantitative"}}},
 {"data":{"name":"ann"},"transform":[{"filter":"datum.p=='PC' && datum.k=='o'"}],"mark":{"type":"point","shape":"M-0.28,-1L0.7,0.64L-0.44,1Z","size":924,"filled":true,"fill":"#fff","stroke":"#000","strokeWidth":1.6,"opacity":1},"encoding":{"x":{"field":"t","type":"quantitative"},"y":{"field":"v","type":"quantitative"}}}
]},
{"width":287,"height":226,"layer":[
 {"data":{"name":"AC"},"mark":{"type":"line","interpolate":"monotone"},"encoding":{
  "x":{"field":"t","type":"quantitative","scale":{"domain":[-100,1200],"nice":false,"zero":false},"axis":{"values":[-100,150,400,650,900,1150],"tickCount":10,"labelFlush":false,"title":"Time (ms)","format":"d","labelExpr":"replace(datum.label, '−', '-')"}},
  "y":{"field":"v","type":"quantitative","scale":{"domain":[-5,10],"reverse":true,"nice":false,"zero":false},"axis":{"values":[-5,-2.5,0,2.5,5,7.5,10],"tickCount":10,"labels":false,"title":null}},
  "color":{"field":"s","type":"nominal","scale":{"domain":["ii","ci","ic","cc"],"range":["#9c9c9c","#858585","#000000","#000000"]},"legend":null},
  "strokeDash":{"field":"s","type":"nominal","scale":{"domain":["ii","ci","ic","cc"],"range":[[5,3],[1,0],[6,3],[1,0]]},"legend":null},
  "strokeWidth":{"field":"s","type":"nominal","scale":{"domain":["ii","ci","ic","cc"],"range":[1.8,2,2,2.2]},"legend":null}}},
 {"data":{"name":"ann"},"transform":[{"filter":"datum.p=='AC' && datum.k=='lab'"}],"mark":{"type":"text","align":"left","baseline":"middle","fontSize":18,"font":"Liberation Serif","color":"#000"},"encoding":{"x":{"field":"t","type":"quantitative"},"y":{"field":"v","type":"quantitative"},"text":{"field":"txt"}}},
 {"data":{"name":"ann"},"transform":[{"filter":"datum.p=='AC' && datum.k=='f'"}],"mark":{"type":"point","shape":"M-0.55,-1L0.55,-0.71L-0.55,1Z","size":750,"filled":true,"fill":"#000","stroke":"#000","strokeWidth":1,"opacity":1},"encoding":{"x":{"field":"t","type":"quantitative"},"y":{"field":"v","type":"quantitative"}}},
 {"data":{"name":"ann"},"transform":[{"filter":"datum.p=='AC' && datum.k=='o'"}],"mark":{"type":"point","shape":"M-0.28,-1L0.7,0.64L-0.44,1Z","size":924,"filled":true,"fill":"#fff","stroke":"#000","strokeWidth":1.6,"opacity":1},"encoding":{"x":{"field":"t","type":"quantitative"},"y":{"field":"v","type":"quantitative"}}}
]}
]},
{"width":700,"height":125,"layer":[
 {"data":{"values":[{"s":"cc","x":553,"x2":623,"y":732},{"s":"ci","x":645,"x2":715,"y":732},{"s":"ic","x":553,"x2":623,"y":764},{"s":"ii","x":645,"x2":715,"y":764}]},
  "mark":{"type":"rule"},
  "encoding":{"x":{"field":"x","type":"quantitative","scale":{"domain":[66,766],"nice":false,"zero":false},"axis":null},"x2":{"field":"x2"},
   "y":{"field":"y","type":"quantitative","scale":{"domain":[655,780],"reverse":true,"nice":false,"zero":false},"axis":null},
   "color":{"field":"s","type":"nominal","scale":{"domain":["ii","ci","ic","cc"],"range":["#9c9c9c","#858585","#000000","#000000"]},"legend":null},
   "strokeDash":{"field":"s","type":"nominal","scale":{"domain":["ii","ci","ic","cc"],"range":[[5,4],[1,0],[6,4],[1,0]]},"legend":null},
   "strokeWidth":{"field":"s","type":"nominal","scale":{"domain":["ii","ci","ic","cc"],"range":[1.8,2.2,2.2,2.6]},"legend":null}}},
 {"data":{"values":[{"txt":"2-back trial","x":635,"y":667},{"txt":"Current trial","x":365,"y":748}]},
  "mark":{"type":"text","fontWeight":"bold","fontSize":20,"font":"Liberation Serif","align":"center","baseline":"middle","color":"#000"},
  "encoding":{"x":{"field":"x","type":"quantitative"},"y":{"field":"y","type":"quantitative"},"text":{"field":"txt"}}},
 {"data":{"values":[{"txt":"Correct","x":591,"y":694},{"txt":"Incorrect","x":683,"y":694},{"txt":"Compatible","x":488,"y":732},{"txt":"Incompatible","x":485,"y":764}]},
  "mark":{"type":"text","fontSize":20,"font":"Liberation Serif","align":"center","baseline":"middle","color":"#000"},
  "encoding":{"x":{"field":"x","type":"quantitative"},"y":{"field":"y","type":"quantitative"},"text":{"field":"txt"}}}
]}
],
"spacing":42
}
